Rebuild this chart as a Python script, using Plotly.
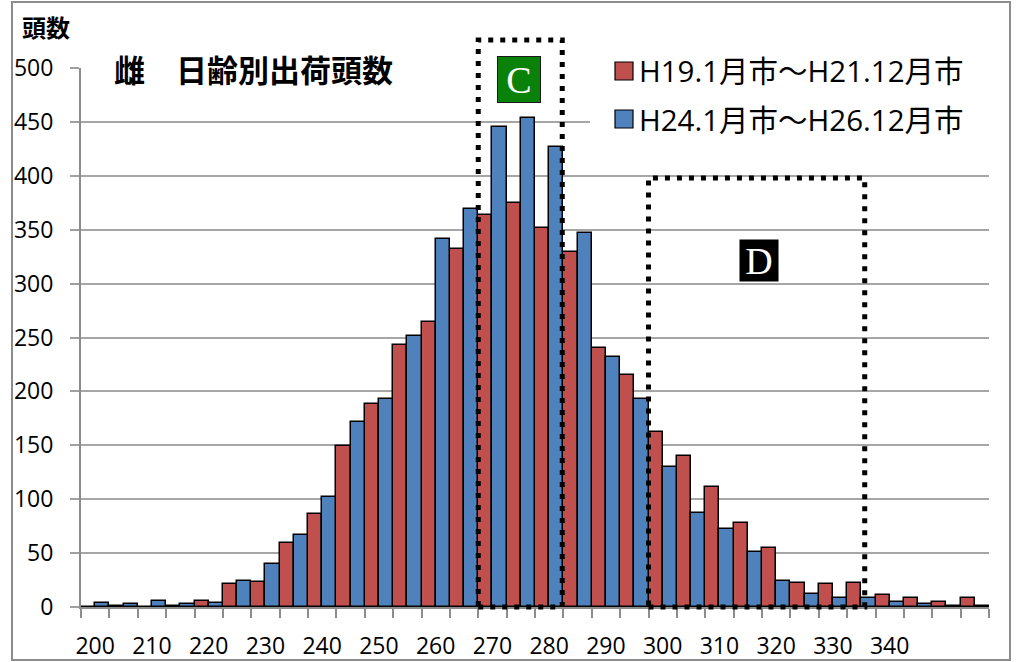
import plotly.graph_objects as go

# ---- data ----
days = [200, 205, 210, 215, 220, 225, 230, 235, 240, 245, 250, 255, 260, 265, 270, 275,
        280, 285, 290, 295, 300, 305, 310, 315, 320, 325, 330, 335, 340, 345, 350, 355]
h19_21 = [0, 1, 0, 1, 6, 21, 23, 59, 86, 149, 188, 243, 264, 332, 364, 375,
          352, 329, 240, 215, 162, 140, 111, 78, 55, 22, 21, 22, 11, 8, 5, 8]
h24_26 = [4, 3, 6, 3, 4, 24, 40, 67, 102, 172, 193, 251, 341, 369, 445, 454,
          427, 347, 232, 193, 130, 87, 72, 51, 24, 12, 8, 8, 5, 3, 1, 1]
series_names = ["H19.1月市～H21.12月市", "H24.1月市～H26.12月市"]
series_colors = ["#C0504D", "#4F81BD"]
x_tick_vals = [200, 210, 220, 230, 240, 250, 260, 270, 280, 290, 300, 310, 320, 330, 340]
x_tick_text = [str(v) for v in x_tick_vals]
y_tick_vals = [0, 50, 100, 150, 200, 250, 300, 350, 400, 450, 500]
title_text = "雌　日齢別出荷頭数"
y_title = "頭数"
step = 5
boundaries = [d - step / 2 for d in days] + [days[-1] + step / 2]

FONT = "Open Sans, Noto Sans CJK JP, sans-serif"
CJK = "Noto Sans CJK JP, sans-serif"

fig = go.Figure()
for vals, name, col in zip([h19_21, h24_26], series_names, series_colors):
    fig.add_trace(go.Bar(x=days, y=vals, name=name, marker_color=col,
                         marker_line_color="#000000", marker_line_width=1.5,
                         showlegend=False))

W, H = 1026, 662
L, R, T, B = 81, 37, 68, 55
pw, ph = W - L - R, H - T - B


def px(x):
    return (x - L) / pw


def py(y):
    return (H - B - y) / ph


shapes = []
annotations = []

# outer border
shapes.append(dict(type="rect", xref="paper", yref="paper", x0=px(12), x1=px(1010),
                   y0=py(660), y1=py(2), line=dict(color="#8C8C8C", width=2), layer="below"))
# legend background
shapes.append(dict(type="rect", xref="paper", yref="paper", x0=px(590), x1=1.0,
                   y0=py(140), y1=py(45), fillcolor="white", line=dict(width=0), layer="above"))
# legend swatches + labels
for i, (name, col) in enumerate(zip(series_names, series_colors)):
    cy = 71 + i * 48
    shapes.append(dict(type="rect", xref="paper", yref="paper", x0=px(615), x1=px(633),
                       y0=py(cy + 9), y1=py(cy - 9), fillcolor=col,
                       line=dict(color="#000000", width=1.2), layer="above"))
    annotations.append(dict(xref="paper", yref="paper", x=px(637), y=py(cy), text=name,
                            showarrow=False, xanchor="left", yanchor="middle",
                            font=dict(family=FONT, size=29.5, color="#000000")))

# dotted boxes C and D
dot = dict(color="#000000", width=5, dash="5px,7px")
shapes.append(dict(type="rect", xref="x", yref="paper", x0=267.5, x1=282.3,
                   y0=0, y1=py(40), line=dot, layer="above"))
shapes.append(dict(type="rect", xref="x", yref="paper", x0=297.5, x1=335.6,
                   y0=0, y1=py(178), line=dot, layer="above"))

# labels
annotations.append(dict(xref="paper", yref="paper", x=px(253), y=1.0, text="<b>" + title_text + "</b>",
                        showarrow=False, xanchor="center", yanchor="middle", bgcolor="white",
                        borderpad=3, font=dict(family=CJK, size=31, color="#000000")))
annotations.append(dict(xref="paper", yref="paper", x=px(20), y=py(27), text="<b>" + y_title + "</b>",
                        showarrow=False, xanchor="left", yanchor="middle",
                        font=dict(family=CJK, size=24, color="#000000")))
annotations.append(dict(xref="paper", yref="paper", x=px(518.5), y=py(79), text="C",
                        showarrow=False, xanchor="center", yanchor="middle", bgcolor="#0A820A",
                        bordercolor="#1a1a1a", borderwidth=1, borderpad=0, width=42, height=45,
                        font=dict(family="Liberation Serif, serif", size=38, color="white")))
annotations.append(dict(xref="paper", yref="paper", x=px(758.5), y=py(260), text="D",
                        showarrow=False, xanchor="center", yanchor="middle", bgcolor="#000000",
                        borderpad=0, width=38, height=41,
                        font=dict(family="Liberation Serif, serif", size=38, color="white")))

fig.update_layout(
    width=W, height=H, margin=dict(l=L, r=R, t=T, b=B, autoexpand=False),
    paper_bgcolor="white", plot_bgcolor="white",
    barmode="group", bargap=0, bargroupgap=0,
    font=dict(family=FONT, size=22, color="#000000"),
    shapes=shapes, annotations=annotations,
)
fig.update_xaxes(range=[boundaries[0], boundaries[-1]], tickmode="array", tickvals=x_tick_vals,
                 ticktext=x_tick_text, ticks="outside", ticklen=17, tickcolor="rgba(0,0,0,0)",
                 showgrid=False, showline=True, linecolor="#8C8C8C", linewidth=2,
                 tickfont=dict(family=FONT, size=23), automargin=False,
                 minor=dict(tickmode="array", tickvals=boundaries, ticks="outside", ticklen=9,
                            tickcolor="#8C8C8C", tickwidth=2, showgrid=False),
                 zeroline=False)
fig.update_yaxes(range=[0, 500], tickmode="array", tickvals=y_tick_vals, ticks="outside",
                 ticklen=9, tickcolor="#A0A0A0", tickwidth=2, showgrid=True,
                 gridcolor="#A6A6A6", gridwidth=2, showline=True, linecolor="#8C8C8C",
                 linewidth=2, zeroline=False, tickfont=dict(family=FONT, size=23),
                 ticklabelstandoff=12, automargin=False)

fig.write_html("out.html", config={"displayModeBar": False},
               post_script="document.body.style.margin='0';document.body.style.padding='0';")
